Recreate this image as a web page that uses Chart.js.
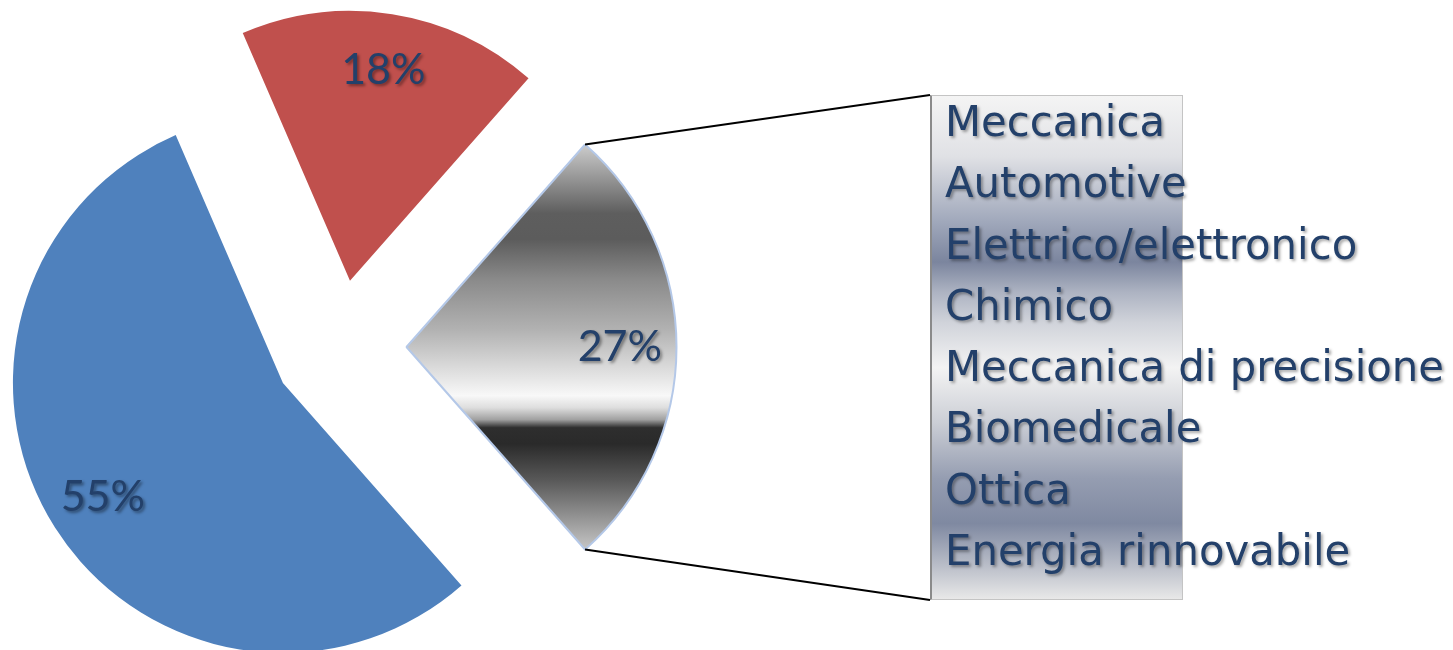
<!DOCTYPE html>
<html>
<head>
<meta charset="utf-8">
<script src="https://cdn.jsdelivr.net/npm/chart.js@4/dist/chart.umd.min.js"></script>
<style>
  html, body { margin: 0; padding: 0; background: #fff; }
  #wrap { position: absolute; left: 0; top: 0; width: 1453px; height: 650px; overflow: hidden; }
  #chart { position: absolute; left: 0; top: 0; }
  #box {
    position: absolute; left: 930px; top: 95px; width: 253px; height: 505px;
    border: 1px solid #c4c4c4; border-left: 2px solid #8a8a8a; box-sizing: border-box;
    background: linear-gradient(to bottom,
      #f4f4f4 0%, #e0e1e5 12%, #a0a8bb 25%, #7b859e 33%, #adb3c2 39%,
      #d0d3da 45%, #f3f3f3 54%, #cbced5 65%, #959db1 76%, #7f89a1 85%,
      #c5c8d0 95%, #e8e8e8 100%);
  }
  #items {
    position: absolute; left: 945px; top: 91px; margin: 0; padding: 0; list-style: none;
    font-family: "DejaVu Sans", Verdana, sans-serif; font-size: 41.8px; line-height: 61.3px;
    color: #23406a; white-space: nowrap; text-shadow: 2px 2px 3px rgba(0,0,0,0.35);
  }
</style>
</head>
<body>
<div id="wrap">
  <div id="box"></div>
  <canvas id="chart"></canvas>
  <ul id="items"></ul>
</div>
<script>
const sectors = ['Altro', 'Servizi', 'Manifatturiero'];
const shares = [55, 18, 27];
const subSectors = [
  'Meccanica', 'Automotive', 'Elettrico/elettronico', 'Chimico',
  'Meccanica di precisione', 'Biomedicale', 'Ottica', 'Energia rinnovabile'
];

const EXPLODE = 67;
const BOX_LEFT = 930, BOX_TOP = 95, BOX_BOTTOM = 600;

document.getElementById('items').innerHTML = subSectors.map(s => `<li>${s}</li>`).join('');

let grayGrad = null;
function getGrayGrad(chart) {
  if (grayGrad) return grayGrad;
  const g = chart.ctx.createLinearGradient(0, 147, 0, 548);
  g.addColorStop(0.00, '#c8c8c8');
  g.addColorStop(0.165, '#5e5e5e');
  g.addColorStop(0.23, '#5c5c5c');
  g.addColorStop(0.33, '#8a8a8a');
  g.addColorStop(0.456, '#b2b2b2');
  g.addColorStop(0.54, '#d6d6d6');
  g.addColorStop(0.62, '#f8f8f8');
  g.addColorStop(0.65, '#dedede');
  g.addColorStop(0.68, '#a0a0a0');
  g.addColorStop(0.70, '#2e2e2e');
  g.addColorStop(0.74, '#2a2a2a');
  g.addColorStop(0.83, '#585858');
  g.addColorStop(1.00, '#c4c4c4');
  grayGrad = g;
  return g;
}

const explodePlugin = {
  id: 'explode',
  beforeDatasetDraw(chart, args) {
    const ctx = chart.ctx;
    args.meta.data.forEach(arc => {
      const mid = (arc.startAngle + arc.endAngle) / 2;
      ctx.save();
      ctx.translate(Math.cos(mid) * EXPLODE, Math.sin(mid) * EXPLODE);
      arc.draw(ctx);
      ctx.restore();
    });
    return false;
  },
  afterDatasetsDraw(chart) {
    const ctx = chart.ctx;
    const arcs = chart.getDatasetMeta(0).data;

    // connector lines from the manufacturing slice to the breakdown box
    const g = arcs[2];
    const gm = (g.startAngle + g.endAngle) / 2;
    const gx = g.x + Math.cos(gm) * EXPLODE, gy = g.y + Math.sin(gm) * EXPLODE;
    ctx.save();
    ctx.strokeStyle = '#000';
    ctx.lineWidth = 2;
    ctx.beginPath();
    ctx.moveTo(gx + Math.cos(g.startAngle) * g.outerRadius, gy + Math.sin(g.startAngle) * g.outerRadius);
    ctx.lineTo(BOX_LEFT, BOX_TOP);
    ctx.moveTo(gx + Math.cos(g.endAngle) * g.outerRadius, gy + Math.sin(g.endAngle) * g.outerRadius);
    ctx.lineTo(BOX_LEFT, BOX_BOTTOM);
    ctx.stroke();
    ctx.restore();

    // percentage labels
    ctx.save();
    ctx.font = '43px Lato, "Noto Sans", sans-serif';
    ctx.fillStyle = '#23406a';
    ctx.textAlign = 'center';
    ctx.textBaseline = 'middle';
    ctx.shadowColor = 'rgba(0,0,0,0.4)';
    ctx.shadowOffsetX = 2;
    ctx.shadowOffsetY = 2;
    ctx.shadowBlur = 3;
    arcs.forEach((arc, i) => {
      const mid = (arc.startAngle + arc.endAngle) / 2;
      const d = EXPLODE + arc.outerRadius * 0.79;
      ctx.fillText(shares[i] + '%', arc.x + Math.cos(mid) * d, arc.y + Math.sin(mid) * d);
    });
    ctx.restore();
  }
};

new Chart(document.getElementById('chart'), {
  type: 'pie',
  data: {
    labels: sectors,
    datasets: [{
      data: shares,
      backgroundColor: c => c.dataIndex === 2 ? getGrayGrad(c.chart) : ['#4f81bd', '#c0504d'][c.dataIndex],
      borderColor: ['#4f81bd', '#c0504d', '#b4c8e8'],
      borderWidth: [0, 0, 2]
    }]
  },
  options: {
    responsive: true,
    maintainAspectRatio: false,
    animation: false,
    events: [],
    rotation: 138.6,
    radius: 270,
    layout: { padding: { left: 0, right: 774, top: 44, bottom: 0 } },
    plugins: { legend: { display: false }, tooltip: { enabled: false }, title: { display: false } }
  },
  plugins: [explodePlugin]
});
</script>
</body>
</html>
